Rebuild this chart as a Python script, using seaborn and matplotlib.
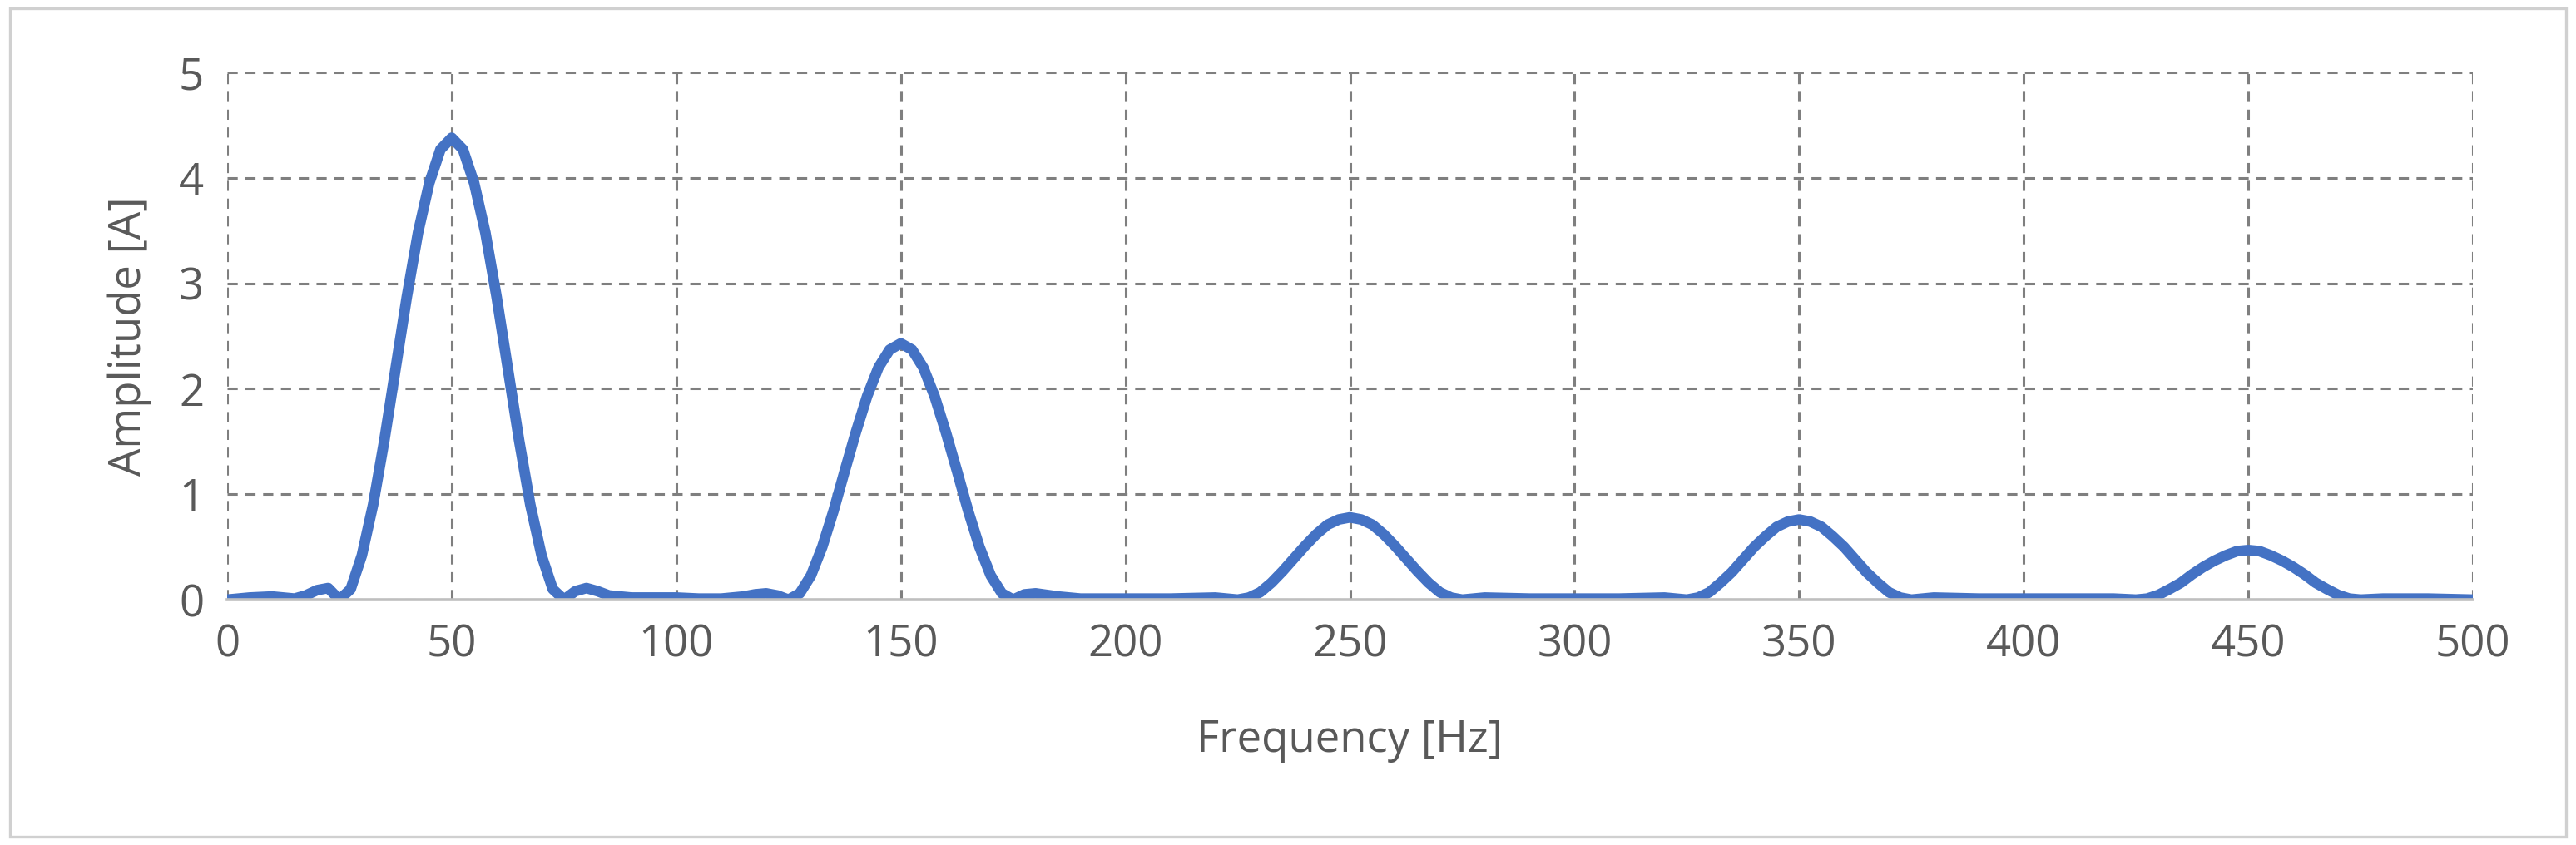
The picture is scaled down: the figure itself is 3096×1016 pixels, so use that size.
import numpy as np
import pandas as pd
import seaborn as sns
import matplotlib
matplotlib.use("Agg")
import matplotlib.pyplot as plt
from matplotlib.patches import Rectangle

# (Hz, A)
freq = [0, 5, 10, 15, 17.5, 20, 22.5, 25,
        27.5, 30, 32.5, 35, 37.5, 40, 42.5, 45, 47.5, 50, 52.5, 55, 57.5, 60, 62.5, 65, 67.5, 70, 72.5, 75,
        77.5, 80, 82.5, 85, 90, 95, 100, 105, 110, 115, 117.5, 120, 122.5, 125,
        127.5, 130, 132.5, 135, 137.5, 140, 142.5, 145, 147.5, 150, 152.5, 155, 157.5, 160, 162.5, 165, 167.5, 170, 172.5, 175,
        177.5, 180, 185, 190, 200, 210, 220, 225,
        227.5, 230, 232.5, 235, 237.5, 240, 242.5, 245, 247.5, 250, 252.5, 255, 257.5, 260, 262.5, 265, 267.5, 270, 272.5, 275,
        280, 290, 300, 310, 320, 325,
        327.5, 330, 332.5, 335, 337.5, 340, 342.5, 345, 347.5, 350, 352.5, 355, 357.5, 360, 362.5, 365, 367.5, 370, 372.5, 375,
        380, 390, 400, 410, 420, 425,
        427.5, 430, 432.5, 435, 437.5, 440, 442.5, 445, 447.5, 450, 452.5, 455, 457.5, 460, 462.5, 465, 467.5, 470, 472.5, 475,
        480, 490, 500]
amp = [0.00, 0.02, 0.03, 0.01, 0.04, 0.09, 0.11, 0.00,
       0.10, 0.42, 0.90, 1.51, 2.19, 2.87, 3.48, 3.95, 4.27, 4.38, 4.27, 3.95, 3.48, 2.87, 2.19, 1.51, 0.90, 0.42, 0.10, 0.00,
       0.08, 0.11, 0.08, 0.04, 0.02, 0.02, 0.02, 0.01, 0.01, 0.03, 0.05, 0.06, 0.04, 0.00,
       0.06, 0.23, 0.50, 0.84, 1.22, 1.59, 1.93, 2.20, 2.37, 2.43, 2.37, 2.20, 1.93, 1.59, 1.22, 0.84, 0.50, 0.23, 0.06, 0.00,
       0.05, 0.06, 0.03, 0.01, 0.01, 0.01, 0.02, 0.00,
       0.02, 0.07, 0.16, 0.27, 0.39, 0.51, 0.62, 0.71, 0.76, 0.78, 0.76, 0.71, 0.62, 0.51, 0.39, 0.27, 0.16, 0.07, 0.02, 0.00,
       0.02, 0.01, 0.01, 0.01, 0.02, 0.00,
       0.02, 0.07, 0.16, 0.26, 0.38, 0.50, 0.60, 0.69, 0.74, 0.76, 0.74, 0.69, 0.60, 0.50, 0.38, 0.26, 0.16, 0.07, 0.02, 0.00,
       0.02, 0.01, 0.01, 0.01, 0.01, 0.00,
       0.01, 0.045, 0.10, 0.16, 0.24, 0.31, 0.37, 0.42, 0.46, 0.47, 0.46, 0.42, 0.37, 0.31, 0.24, 0.16, 0.10, 0.045, 0.01, 0.00,
       0.01, 0.01, 0.00]
xticks = list(range(0, 550, 50))
yticks = [0, 1, 2, 3, 4, 5]

df = pd.DataFrame({"Frequency": freq, "Amplitude": amp})

sns.set_theme(style="white")
plt.rcParams['font.family'] = ['Open Sans', 'DejaVu Sans']
fig = plt.figure(figsize=(15.48, 5.08), dpi=200)
ax = fig.add_axes([273/3096, 1-721/1016, (2972-273)/3096, (721-87)/1016])
fig.patches.append(Rectangle((0.004, 0.01), 0.992, 0.98, transform=fig.transFigure,
                             fill=False, edgecolor="#d0d0d0", lw=1.2))
sns.lineplot(data=df, x="Frequency", y="Amplitude", ax=ax, color="#4472C4", lw=4.6,
             solid_joinstyle="round", solid_capstyle="round")
ax.set_xlim(0, 500); ax.set_ylim(0, 5)
ax.set_xticks(xticks); ax.set_yticks(yticks)
ax.grid(True, ls=(0, (4, 3)), color="#7f7f7f", lw=1.1)
for s in ["top", "right", "left"]:
    ax.spines[s].set_visible(False)
ax.spines["bottom"].set_color("#bfbfbf"); ax.spines["bottom"].set_linewidth(1.3)
ax.tick_params(colors="#595959", labelsize=19, length=0, pad=10)
ax.set_xlabel("Frequency [Hz]", fontsize=19, color="#595959", labelpad=22)
ax.set_ylabel("Amplitude [A]", fontsize=19, color="#595959", labelpad=12)
fig.savefig("out.png", dpi=200)
